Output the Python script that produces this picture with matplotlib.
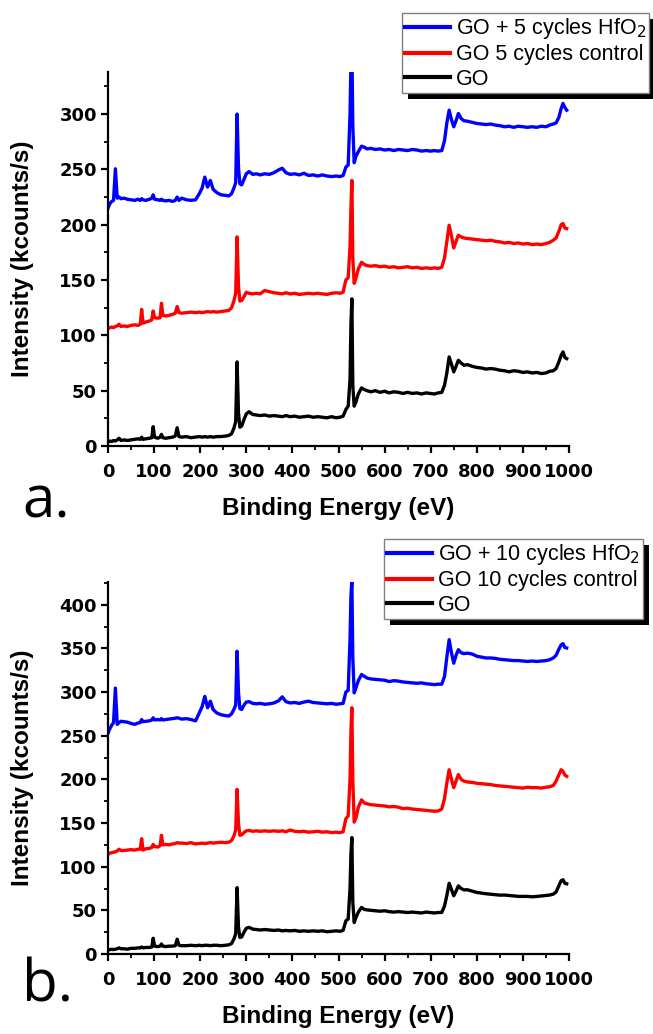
import matplotlib
matplotlib.use("Agg")
import matplotlib.pyplot as plt
from matplotlib.patches import Rectangle
from matplotlib.ticker import MultipleLocator
from matplotlib.font_manager import FontProperties

# ---------------- data ----------------
energy = [
    0, 4, 8, 12, 16, 20, 24, 28, 35, 42,
    50, 58, 65, 70, 73, 76, 82, 90, 95, 98,
    101, 108, 113, 116, 119, 125, 132, 140, 146, 150,
    154, 160, 170, 180, 190, 198, 204, 210, 216, 222,
    228, 236, 245, 255, 262, 268, 273, 277, 280, 283,
    286, 290, 295, 300, 306, 314, 322, 330, 340, 350,
    360, 370, 378, 386, 395, 405, 415, 425, 435, 445,
    455, 465, 475, 485, 495, 503, 510, 516, 521, 525,
    527, 529, 531, 534, 538, 543, 550, 556, 562, 570,
    580, 590, 600, 610, 620, 630, 640, 650, 660, 670,
    680, 690, 700, 708, 716, 724, 730, 735, 740, 745,
    750, 755, 760, 766, 772, 780, 790, 800, 810, 820,
    830, 840, 850, 860, 870, 880, 890, 900, 910, 920,
    930, 940, 950, 958, 966, 972, 978, 983, 987, 991,
    995,
]

# panel a
a_go = [
    3.5, 4.5, 4.0, 5.0, 4.5, 5.5, 7.0, 5.0, 5.5, 5.0,
    5.5, 6.0, 6.5, 6.0, 8.0, 6.0, 6.5, 7.0, 7.5, 17.5,
    8.0, 7.0, 8.0, 10.5, 7.5, 7.0, 7.5, 8.0, 9.0, 16.5,
    8.5, 8.0, 8.5, 7.5, 8.0, 8.5, 8.0, 8.5, 8.0, 8.5,
    8.0, 8.5, 8.5, 9.0, 9.5, 11.0, 16.0, 22.0, 76.0, 30.0,
    17.0, 18.0, 24.0, 29.0, 31.0, 28.5, 28.0, 27.5, 28.0, 27.0,
    27.5, 27.0, 26.5, 27.5, 26.5, 27.0, 26.0, 26.5, 27.0, 26.0,
    26.5, 26.0, 25.5, 26.5, 25.5, 26.0, 27.0, 33.0, 36.0, 60.0,
    110.0, 133.0, 55.0, 36.0, 40.0, 47.0, 52.5, 51.0, 50.0, 49.0,
    50.0, 48.5, 49.5, 48.0, 49.0, 48.5, 47.5, 48.5, 47.5, 48.0,
    47.0, 48.0, 47.5, 47.0, 48.0, 48.5, 55.0, 66.0, 80.5, 74.0,
    67.0, 72.0, 77.5, 75.0, 73.0, 73.5, 72.0, 71.0, 70.5, 69.5,
    70.0, 69.5, 68.5, 68.0, 67.0, 68.0, 67.5, 66.5, 67.0, 66.0,
    66.5, 65.5, 66.0, 67.5, 68.0, 70.0, 76.0, 82.0, 85.0, 80.0,
    79.0,
]
a_control = [
    106.0, 107.0, 107.5, 107.0, 108.0, 108.5, 110.0, 108.0, 108.5, 108.0,
    109.0, 109.5, 109.0, 110.0, 123.5, 111.0, 112.0, 113.0, 114.0, 122.0,
    116.0, 115.5, 116.0, 129.0, 118.0, 117.5, 118.0, 119.0, 120.0, 126.0,
    120.5, 120.0, 120.5, 121.0, 120.5, 121.0, 120.5, 121.0, 121.5, 121.0,
    121.5, 121.0, 121.5, 122.0, 122.5, 125.0, 131.0, 138.0, 189.0, 145.0,
    131.0, 131.5, 135.0, 139.0, 138.0, 137.5, 138.0, 137.5, 140.5, 139.5,
    138.5, 138.0, 137.5, 138.5, 137.5, 138.0, 137.0, 137.5, 138.0, 137.5,
    138.0, 137.5, 137.0, 138.0, 138.5, 138.0, 139.0, 150.0, 152.0, 180.0,
    215.0, 240.0, 170.0, 147.0, 152.0, 160.0, 166.0, 164.0, 163.0, 162.5,
    163.0, 162.0, 162.5, 161.5, 162.0, 161.0, 161.5, 162.0, 161.0, 161.5,
    160.5, 161.0, 160.5, 161.0, 160.5, 161.5, 170.0, 185.0, 199.5, 190.0,
    179.0, 185.0, 190.5, 189.0, 188.0, 187.5, 187.0, 186.5, 186.0, 185.5,
    186.0, 185.0, 184.5, 183.5, 184.0, 183.0, 183.5, 182.5, 183.0, 182.0,
    182.5, 182.0, 183.0, 184.0, 186.0, 188.0, 194.0, 200.0, 201.0, 197.0,
    196.5,
]
a_hfo2 = [
    215.0, 219.0, 221.0, 222.0, 250.5, 224.0, 225.0, 223.5, 224.0, 223.0,
    222.5, 222.0, 223.0, 222.0, 223.5, 222.5, 222.0, 223.0, 224.0, 227.0,
    223.0, 222.5, 222.0, 223.0, 222.0, 221.5, 222.0, 221.0, 222.0, 225.0,
    222.0, 224.0, 222.5, 222.0, 222.5, 228.0, 233.0, 243.0, 234.0, 240.0,
    232.0, 229.0, 227.0, 226.5, 226.0, 228.0, 233.0, 238.0, 300.0, 252.0,
    237.0, 236.0, 241.0, 246.0, 248.0, 245.5, 246.0, 245.0, 246.0, 245.5,
    247.0, 249.5, 251.0, 247.0, 245.5, 246.0, 245.0, 246.5, 244.5, 245.0,
    244.0, 245.0, 244.0, 243.5, 244.0, 243.5, 244.5, 252.0, 254.0, 300.0,
    345.0, 360.0, 290.0, 256.0, 262.0, 266.0, 271.0, 270.0, 268.5, 269.0,
    268.0, 268.5, 267.5, 268.0, 267.0, 268.0, 267.5, 267.0, 268.0, 267.5,
    266.5, 267.0, 266.5, 267.0, 266.5, 267.0, 276.0, 292.0, 303.5, 295.0,
    288.5, 294.0, 300.5, 296.0, 294.0, 293.5, 292.5, 291.5, 291.0, 290.5,
    291.0, 290.0, 289.5, 288.5, 289.0, 288.0, 289.0, 288.5, 288.0, 288.5,
    288.0, 289.0, 288.5, 290.0, 291.0, 292.0, 297.0, 305.0, 309.6, 306.0,
    303.5,
]

# panel b
b_go = [
    4.5, 5.0, 5.5, 5.0, 5.5, 6.0, 7.0, 6.0, 6.0, 5.5,
    6.5, 6.5, 7.0, 7.0, 8.0, 7.0, 7.5, 7.5, 8.0, 18.0,
    9.0, 8.5, 9.0, 11.5, 9.0, 8.5, 9.0, 9.0, 9.5, 17.0,
    10.0, 9.5, 9.5, 10.0, 9.5, 10.0, 9.5, 10.0, 10.0, 9.5,
    10.0, 10.0, 9.5, 10.0, 10.5, 12.0, 17.0, 23.0, 76.0, 31.0,
    19.0, 19.5, 25.0, 29.5, 30.5, 28.5, 28.0, 27.5, 28.0, 27.5,
    27.0, 27.5, 26.5, 27.0, 26.5, 27.0, 26.0, 26.5, 26.0, 26.5,
    26.0, 26.5, 25.5, 26.0, 26.5, 26.0, 27.0, 38.0, 40.0, 75.0,
    115.0, 133.3, 60.0, 36.0, 42.0, 48.0, 53.3, 51.0, 50.5, 50.0,
    49.5, 49.0, 49.5, 48.5, 48.0, 48.5, 48.0, 47.5, 48.0, 47.5,
    47.0, 48.0, 47.5, 47.0, 47.5, 47.6, 55.0, 67.0, 81.0, 74.0,
    66.7, 72.0, 78.0, 75.0, 73.5, 73.5, 72.0, 70.5, 69.7, 69.0,
    68.5, 68.0, 67.4, 67.5, 67.0, 66.5, 66.0, 65.9, 66.0, 65.5,
    65.9, 66.5, 67.0, 67.5, 68.6, 71.0, 78.0, 84.0, 85.0, 81.0,
    80.4,
]
b_control = [
    114.0, 115.5, 116.0, 116.5, 117.0, 118.0, 120.0, 118.5, 118.5, 119.0,
    119.5, 119.0, 120.0, 120.0, 132.0, 119.0, 120.5, 121.0, 122.0, 125.5,
    123.0, 122.5, 124.0, 136.0, 125.0, 125.5, 125.0, 126.0, 126.5, 127.5,
    127.0, 127.0, 126.5, 127.5, 126.0, 126.5, 127.0, 126.5, 127.0, 127.5,
    127.0, 127.5, 128.0, 127.5, 128.0, 130.0, 135.0, 142.0, 188.5, 150.0,
    136.0, 136.5, 139.0, 141.0, 141.5, 140.5, 141.0, 140.5, 141.0, 140.5,
    141.0, 140.5, 141.0, 140.0, 142.0, 140.5, 140.0, 140.5, 139.5, 140.0,
    140.5, 139.5, 140.0, 139.0, 139.5, 139.0, 140.0, 155.0, 158.0, 200.0,
    255.0, 282.0, 200.0, 151.0, 156.0, 168.0, 176.5, 173.0, 172.0, 171.0,
    170.5, 170.0, 169.5, 168.5, 169.0, 168.0, 166.5, 167.0, 166.0, 165.5,
    165.0, 164.5, 164.0, 163.5, 163.8, 166.0, 178.0, 196.0, 211.0, 200.0,
    190.5, 198.0, 205.5, 200.0, 198.0, 197.0, 196.5, 195.5, 195.0, 194.5,
    194.0, 193.0, 192.5, 192.0, 191.5, 191.0, 190.5, 190.0, 191.0, 190.5,
    190.5, 190.0, 191.0, 191.5, 193.0, 198.0, 205.0, 211.0, 209.0, 205.0,
    203.5,
]
b_hfo2 = [
    253.0, 258.0, 262.0, 265.0, 304.5, 263.0, 265.0, 266.5, 266.0, 265.5,
    264.0, 263.0, 264.5, 265.0, 268.5, 266.0, 266.5, 267.0, 268.0, 270.5,
    268.0, 268.5, 268.0, 269.5, 268.0, 268.5, 269.0, 269.5, 270.0, 270.5,
    270.0, 269.0, 269.5, 268.5, 267.0, 276.0, 283.0, 295.0, 282.0, 289.5,
    280.0, 276.0, 274.0, 273.0, 272.5, 275.0, 280.0, 285.0, 346.7, 300.0,
    281.0, 280.0, 285.0, 288.5, 289.0, 287.0, 286.5, 287.0, 286.0, 286.5,
    287.5, 290.0, 294.5, 289.0, 287.5, 288.0, 287.0, 288.5, 289.5, 288.0,
    287.5, 287.0, 286.5, 287.0, 286.0, 286.5, 287.0, 300.0, 302.0, 360.0,
    410.0, 428.0, 340.0, 299.0, 305.0, 313.0, 320.0, 318.0, 316.0, 315.0,
    314.5, 314.0, 313.5, 312.0, 313.0, 312.5, 311.5, 311.0, 310.5, 310.0,
    310.5, 309.5, 309.0, 308.5, 309.0, 309.0, 318.0, 340.0, 360.0, 345.0,
    333.0, 342.0, 348.5, 345.0, 344.0, 344.5, 343.5, 341.0, 340.0, 339.0,
    339.0, 338.5, 337.5, 337.0, 336.5, 336.0, 336.0, 335.5, 335.0, 335.5,
    335.0, 335.5, 336.0, 337.0, 339.0, 342.0, 349.0, 354.0, 355.4, 351.0,
    350.5,
]

labels_a = ["GO + 5 cycles HfO$_2$", "GO 5 cycles control", "GO"]
labels_b = ["GO + 10 cycles HfO$_2$", "GO 10 cycles control", "GO"]
panel_letters = ["a.", "b."]
colors = ["#0000ff", "#ff0000", "#000000"]
xlabel = "Binding Energy (eV)"
ylabel = "Intensity (kcounts/s)"

for arr in (a_go, a_control, a_hfo2, b_go, b_control, b_hfo2):
    assert len(arr) == len(energy)

# ---------------- figure ----------------
W, H = 653, 1034
fig = plt.figure(figsize=(W / 100, H / 100), dpi=100)

TICKFONT = dict(family="DejaVu Sans", weight="bold", size=13)
LABELFONT = dict(family="Liberation Sans", weight="bold", size=17.5)


def px_axes(left, top, right, bottom):
    return fig.add_axes([left / W, 1 - bottom / H, (right - left) / W, (bottom - top) / H])


panels = [
    dict(rect=(108, 72, 569, 446), ymax=338, series=[a_hfo2, a_control, a_go], labels=labels_a,
         leg_box=(402, 13, 649, 100), letter_xy=(22, 518)),
    dict(rect=(108, 582, 569, 954), ymax=426, series=[b_hfo2, b_control, b_go], labels=labels_b,
         leg_box=(380, 539, 643, 627), letter_xy=(22, 1002)),
]

for i, p in enumerate(panels):
    l, t, r, b = p["rect"]
    ax = px_axes(l, t, r, b)
    lines = []
    for y, c, lab in zip(p["series"], colors, p["labels"]):
        ln, = ax.plot(energy, y, color=c, lw=2.4, label=lab, solid_joinstyle="round")
        lines.append(ln)
    ax.set_xlim(0, 1000)
    ax.set_ylim(0, p["ymax"])
    ax.spines["top"].set_visible(False)
    ax.spines["right"].set_visible(False)
    for s in ("left", "bottom"):
        ax.spines[s].set_linewidth(1.6)
    ax.xaxis.set_major_locator(MultipleLocator(100))
    ax.xaxis.set_minor_locator(MultipleLocator(50))
    ax.yaxis.set_major_locator(MultipleLocator(50))
    ax.yaxis.set_minor_locator(MultipleLocator(25))
    ax.tick_params(which="major", direction="out", length=5, width=1.6)
    ax.tick_params(axis="x", which="major", pad=7)
    ax.tick_params(axis="y", which="major", pad=3)
    ax.tick_params(which="minor", direction="out", length=3, width=1.3)
    for lab in ax.get_xticklabels() + ax.get_yticklabels():
        lab.set_fontproperties(FontProperties(**TICKFONT))
    ax.set_xlabel(xlabel, fontdict=LABELFONT)
    ax.set_ylabel(ylabel, fontdict=LABELFONT)
    ax.xaxis.set_label_coords(0.5, -62 / (b - t))
    ax.xaxis.label.set_va("center")
    ax.yaxis.set_label_coords(-(108 - 23) / (r - l), 0.5)
    ax.yaxis.label.set_va("center")

    # legend (figure level) with black drop shadow
    lx0, ly0, lx1, ly1 = p["leg_box"]
    leg = fig.legend(handles=lines, labels=p["labels"], loc="upper right",
                     bbox_to_anchor=(lx1 / W, 1 - ly0 / H), bbox_transform=fig.transFigure,
                     prop=dict(family="Liberation Sans", size=15.5), frameon=True,
                     fancybox=False, edgecolor="#808080", framealpha=1, borderpad=0.15,
                     handlelength=2.1, handletextpad=0.25, labelspacing=0.15, borderaxespad=0)
    leg.get_frame().set_linewidth(1.0)
    for h in leg.legend_handles:
        h.set_linewidth(3.0)
    leg.set_zorder(6)
    fig.canvas.draw()
    bb = leg.get_window_extent()
    shadow = Rectangle((bb.x0 + 6, bb.y0 - 6), bb.width, bb.height, transform=None,
                       facecolor="black", edgecolor="none", zorder=5.5)
    fig.add_artist(shadow)

    fig.text(p["letter_xy"][0] / W, 1 - p["letter_xy"][1] / H, panel_letters[i],
             family="Open Sans", fontsize=42, ha="left", va="baseline")

fig.savefig("out.png", dpi=100)
